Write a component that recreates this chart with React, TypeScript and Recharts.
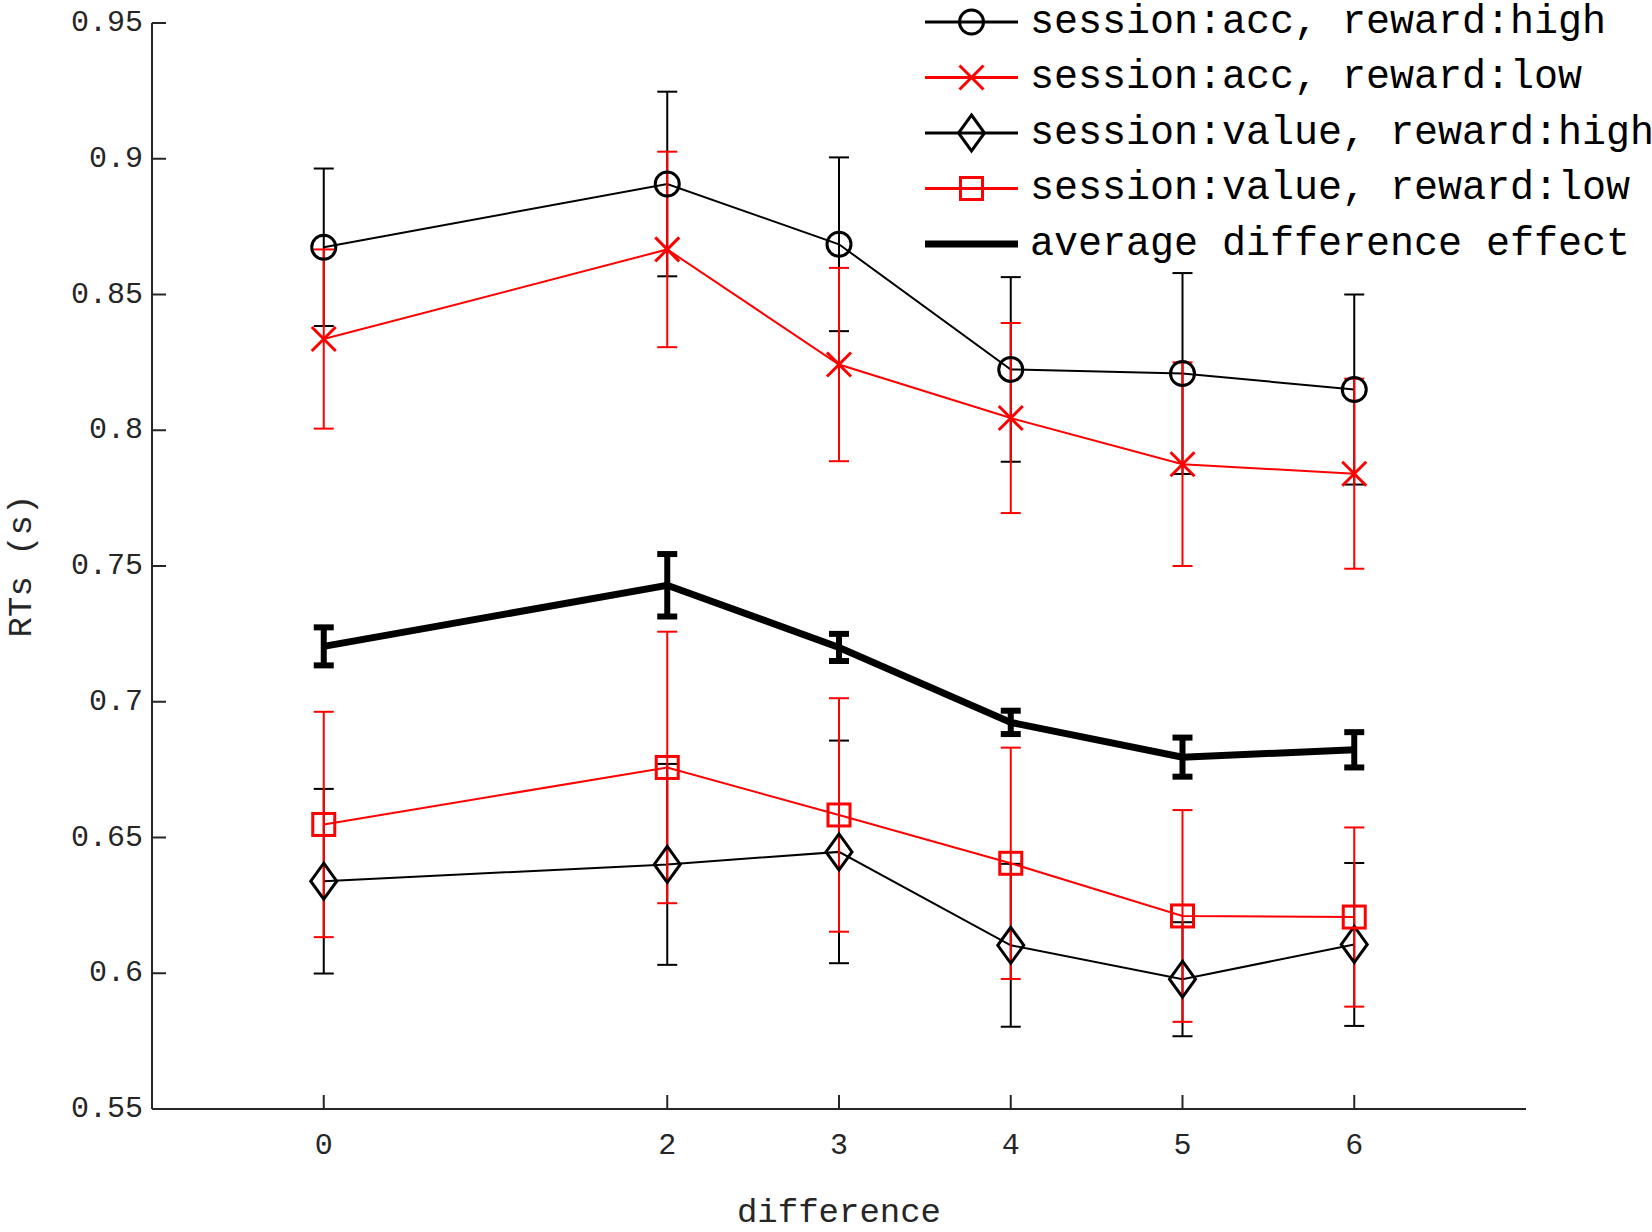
import React from 'react';
import { LineChart, Line, XAxis, YAxis, ErrorBar, Legend } from 'recharts';

const differences = [0, 2, 3, 4, 5, 6];
const accHigh = [0.8674, 0.8907, 0.8685, 0.8224, 0.8209, 0.815];
const accHighErr = [0.029, 0.034, 0.032, 0.034, 0.037, 0.035];
const accLow = [0.8336, 0.8666, 0.8242, 0.8045, 0.7875, 0.784];
const accLowErr = [0.033, 0.036, 0.0356, 0.035, 0.0375, 0.035];
const valueHigh = [0.6339, 0.6401, 0.6447, 0.6103, 0.5978, 0.6106];
const valueHighErr = [0.034, 0.037, 0.041, 0.03, 0.021, 0.03];
const valueLow = [0.6548, 0.6758, 0.6583, 0.6405, 0.6211, 0.6207];
const valueLowErr = [0.0415, 0.05, 0.043, 0.0426, 0.039, 0.033];
const avgEffect = [0.7204, 0.7429, 0.72, 0.6924, 0.6796, 0.6823];
const avgEffectErr = [0.007, 0.0115, 0.005, 0.0043, 0.0072, 0.0065];

const xTicks = [0, 2, 3, 4, 5, 6];
const yTicks = [0.55, 0.6, 0.65, 0.7, 0.75, 0.8, 0.85, 0.9, 0.95];

const data = differences.map((x, i) => ({
  x,
  accHigh: accHigh[i], accHighErr: accHighErr[i],
  accLow: accLow[i], accLowErr: accLowErr[i],
  valueHigh: valueHigh[i], valueHighErr: valueHighErr[i],
  valueLow: valueLow[i], valueLowErr: valueLowErr[i],
  avgEffect: avgEffect[i], avgEffectErr: avgEffectErr[i],
}));

const series = [
  { key: 'accHigh', name: 'session:acc, reward:high', color: '#000000', shape: 'circle', width: 2 },
  { key: 'accLow', name: 'session:acc, reward:low', color: '#ff0000', shape: 'cross', width: 2 },
  { key: 'valueHigh', name: 'session:value, reward:high', color: '#000000', shape: 'diamond', width: 2 },
  { key: 'valueLow', name: 'session:value, reward:low', color: '#ff0000', shape: 'square', width: 2 },
  { key: 'avgEffect', name: 'average difference effect', color: '#000000', shape: 'none', width: 7 },
];

const FONT = '"Liberation Mono", "DejaVu Sans Mono", monospace';
const AXIS = '#262626';

function Marker({ shape, cx, cy, color }: any) {
  const common = { fill: 'none', stroke: color, strokeWidth: 3 };
  if (shape === 'circle') return <circle cx={cx} cy={cy} r={12} {...common} />;
  if (shape === 'cross')
    return <path d={`M${cx - 12},${cy - 12}L${cx + 12},${cy + 12}M${cx - 12},${cy + 12}L${cx + 12},${cy - 12}`} {...common} />;
  if (shape === 'diamond')
    return <path d={`M${cx},${cy - 18}L${cx + 13},${cy}L${cx},${cy + 18}L${cx - 13},${cy}Z`} {...common} />;
  if (shape === 'square') return <rect x={cx - 11} y={cy - 11} width={22} height={22} {...common} />;
  return null;
}

const XTick = ({ x, y, payload }: any) => (
  <g>
    <line x1={x} y1={y} x2={x} y2={y - 14} stroke={AXIS} strokeWidth={2} />
    <text x={x} y={y + 37} textAnchor="middle" dominantBaseline="central" fontFamily={FONT} fontSize={30} fill={AXIS}>
      {payload.value}
    </text>
  </g>
);

const YTick = ({ x, y, payload }: any) => (
  <g>
    <line x1={x} y1={y} x2={x + 14} y2={y} stroke={AXIS} strokeWidth={2} />
    <text x={x - 9} y={y} textAnchor="end" dominantBaseline="central" fontFamily={FONT} fontSize={30} fill={AXIS}>
      {String(payload.value)}
    </text>
  </g>
);

// legend rows keep the plotting order, not the alphabetical one
const LegendBox = () => (
  <svg width={727} height={270} style={{ display: 'block', overflow: 'hidden' }}>
    {series.map((s, i) => {
      const cy = 22 + i * 55.5;
      return (
        <g key={s.key}>
          <line x1={0} y1={cy} x2={93} y2={cy} stroke={s.color} strokeWidth={s.shape === 'none' ? 7 : 3} />
          <Marker shape={s.shape} cx={46.5} cy={cy} color={s.color} />
          <text x={105} y={cy} dominantBaseline="central" fontFamily={FONT} fontSize={40} fill="#000">
            {s.name}
          </text>
        </g>
      );
    })}
  </svg>
);

export default function App() {
  return (
    <div style={{ position: 'absolute', left: 0, top: 0, width: 1652, height: 1232, overflow: 'hidden', background: '#fff' }}>
      <LineChart width={1652} height={1232} data={data} margin={{ top: 23, right: 126, left: 0, bottom: 0 }}>
        <XAxis
          type="number"
          dataKey="x"
          domain={[-1, 7]}
          ticks={xTicks}
          height={123}
          axisLine={{ stroke: AXIS, strokeWidth: 2 }}
          tickLine={false}
          tickSize={0}
          tickMargin={0}
          tick={<XTick />}
          label={{ value: 'difference', position: 'insideBottom', offset: 10, fontFamily: FONT, fontSize: 34, fill: AXIS }}
        />
        <YAxis
          type="number"
          domain={[0.55, 0.95]}
          ticks={yTicks}
          width={152}
          axisLine={{ stroke: AXIS, strokeWidth: 2 }}
          tickLine={false}
          tickSize={0}
          tickMargin={0}
          tick={<YTick />}
          label={{ value: 'RTs (s)', angle: -90, position: 'insideLeft', offset: 19, fontFamily: FONT, fontSize: 34, fill: AXIS, style: { textAnchor: 'middle' } }}
        />
        <Legend
          layout="vertical"
          align="center"
          verticalAlign="middle"
          content={<LegendBox />}
          wrapperStyle={{ left: 925, top: 0, width: 727, height: 270 }}
        />
        {series.map((s) => (
          <Line
            key={s.key}
            type="linear"
            dataKey={s.key}
            name={s.name}
            stroke={s.color}
            strokeWidth={s.width}
            isAnimationActive={false}
            dot={(p: any) => <Marker key={`${s.key}-${p.index}`} shape={s.shape} cx={p.cx} cy={p.cy} color={s.color} />}
            activeDot={false}
          >
            <ErrorBar
              dataKey={`${s.key}Err`}
              direction="y"
              width={10}
              stroke={s.color}
              strokeWidth={s.shape === 'none' ? 6 : 2}
              isAnimationActive={false}
            />
          </Line>
        ))}
      </LineChart>
    </div>
  );
}
